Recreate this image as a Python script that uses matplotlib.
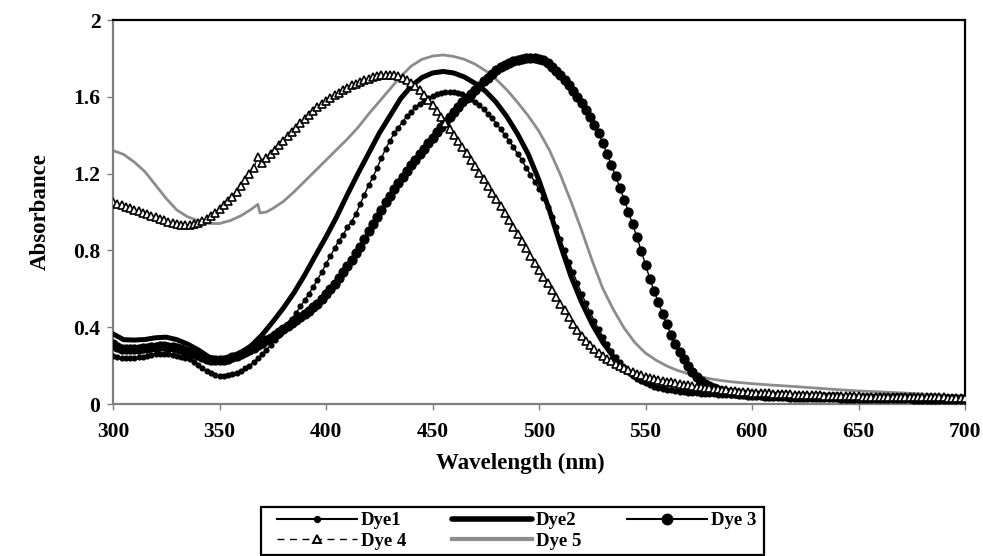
import numpy as np
import matplotlib
matplotlib.use("Agg")
import matplotlib.pyplot as plt
from matplotlib.lines import Line2D
from matplotlib.patches import Rectangle

plt.rcParams['font.family'] = ['Liberation Serif', 'DejaVu Serif']
plt.rcParams['font.weight'] = 'bold'

# ---------------- data ----------------
# 2-nm grid for the marker series (Dye1, Dye 3, Dye 4)
wl_2nm = np.arange(300, 701, 2)

dye1 = [
    0.250, 0.245, 0.240, 0.238, 0.238, 0.240, 0.243, 0.247, 0.252, 0.256,
    0.260, 0.262, 0.262, 0.260, 0.256, 0.250, 0.245, 0.240, 0.232, 0.220,
    0.205, 0.188, 0.172, 0.160, 0.152, 0.148, 0.147, 0.149, 0.155, 0.163,
    0.174, 0.186, 0.200, 0.218, 0.238, 0.260, 0.282, 0.306, 0.332, 0.358,
    0.386, 0.414, 0.444, 0.476, 0.508, 0.540, 0.575, 0.610, 0.648, 0.686,
    0.730, 0.770, 0.810, 0.850, 0.880, 0.920, 0.950, 0.990, 1.040, 1.090,
    1.140, 1.180, 1.230, 1.280, 1.330, 1.370, 1.410, 1.440, 1.470, 1.500,
    1.520, 1.545, 1.565, 1.580, 1.595, 1.605, 1.613, 1.620, 1.624, 1.626,
    1.624, 1.620, 1.613, 1.603, 1.590, 1.575, 1.555, 1.535, 1.510, 1.490,
    1.460, 1.430, 1.400, 1.370, 1.340, 1.300, 1.270, 1.230, 1.195, 1.155,
    1.120, 1.075, 1.028, 0.975, 0.920, 0.860, 0.800, 0.742, 0.685, 0.630,
    0.575, 0.525, 0.478, 0.432, 0.390, 0.350, 0.312, 0.278, 0.246, 0.217,
    0.192, 0.168, 0.148, 0.132, 0.119, 0.108, 0.099, 0.091, 0.085, 0.080,
    0.075, 0.071, 0.067, 0.064, 0.061, 0.059, 0.057, 0.055, 0.053, 0.052,
    0.051, 0.050, 0.049, 0.048, 0.047, 0.046, 0.046, 0.045, 0.045, 0.044,
    0.044, 0.043, 0.043, 0.042, 0.042, 0.041, 0.041, 0.040, 0.040, 0.040,
    0.039, 0.039, 0.038, 0.038, 0.038, 0.037, 0.037, 0.037, 0.036, 0.036,
    0.036, 0.035, 0.035, 0.035, 0.034, 0.034, 0.034, 0.034, 0.033, 0.033,
    0.033, 0.033, 0.032, 0.032, 0.032, 0.032, 0.031, 0.031, 0.031, 0.031,
    0.030, 0.030, 0.030, 0.030, 0.030, 0.029, 0.029, 0.029, 0.029, 0.029,
    0.028,
]

dye3 = [
    0.310, 0.296, 0.289, 0.286, 0.285, 0.286, 0.288, 0.291, 0.294, 0.297,
    0.299, 0.300, 0.300, 0.298, 0.295, 0.290, 0.285, 0.278, 0.270, 0.262,
    0.253, 0.244, 0.236, 0.231, 0.228, 0.228, 0.231, 0.236, 0.243, 0.251,
    0.260, 0.270, 0.282, 0.294, 0.306, 0.319, 0.332, 0.346, 0.360, 0.375,
    0.390, 0.405, 0.420, 0.436, 0.452, 0.469, 0.486, 0.504, 0.523, 0.546,
    0.575, 0.600, 0.627, 0.655, 0.685, 0.717, 0.750, 0.784, 0.820, 0.860,
    0.900, 0.937, 0.975, 1.012, 1.050, 1.085, 1.118, 1.150, 1.182, 1.213,
    1.243, 1.273, 1.302, 1.330, 1.358, 1.385, 1.415, 1.443, 1.470, 1.497,
    1.523, 1.548, 1.572, 1.595, 1.617, 1.638, 1.657, 1.680, 1.700, 1.720,
    1.738, 1.753, 1.766, 1.777, 1.786, 1.793, 1.798, 1.800, 1.801, 1.800,
    1.797, 1.790, 1.775, 1.755, 1.733, 1.713, 1.690, 1.662, 1.632, 1.600,
    1.566, 1.530, 1.495, 1.455, 1.410, 1.360, 1.300, 1.245, 1.185, 1.125,
    1.065, 1.000, 0.935, 0.868, 0.798, 0.725, 0.653, 0.590, 0.530, 0.470,
    0.415, 0.360, 0.310, 0.270, 0.232, 0.198, 0.168, 0.143, 0.122, 0.105,
    0.092, 0.082, 0.074, 0.068, 0.063, 0.059, 0.056, 0.053, 0.051, 0.049,
    0.047, 0.046, 0.045, 0.044, 0.043, 0.042, 0.041, 0.040, 0.040, 0.039,
    0.038, 0.038, 0.037, 0.037, 0.036, 0.036, 0.035, 0.035, 0.034, 0.034,
    0.034, 0.033, 0.033, 0.033, 0.032, 0.032, 0.032, 0.031, 0.031, 0.031,
    0.030, 0.030, 0.030, 0.030, 0.029, 0.029, 0.029, 0.029, 0.028, 0.028,
    0.028, 0.028, 0.028, 0.027, 0.027, 0.027, 0.027, 0.027, 0.026, 0.026,
    0.026,
]

dye4 = [
    1.050, 1.044, 1.036, 1.028, 1.020, 1.012, 1.004, 0.996, 0.988, 0.980,
    0.972, 0.964, 0.956, 0.948, 0.942, 0.937, 0.934, 0.933, 0.934, 0.938,
    0.944, 0.952, 0.964, 0.979, 0.997, 1.016, 1.036, 1.057, 1.080, 1.105,
    1.135, 1.168, 1.200, 1.230, 1.285, 1.255, 1.280, 1.302, 1.325, 1.348,
    1.372, 1.395, 1.418, 1.440, 1.462, 1.484, 1.505, 1.525, 1.545, 1.562,
    1.578, 1.594, 1.608, 1.622, 1.636, 1.648, 1.659, 1.669, 1.678, 1.686,
    1.694, 1.701, 1.707, 1.711, 1.714, 1.715, 1.713, 1.708, 1.700, 1.688,
    1.673, 1.655, 1.634, 1.610, 1.584, 1.556, 1.527, 1.497, 1.466, 1.434,
    1.402, 1.370, 1.338, 1.305, 1.272, 1.238, 1.204, 1.170, 1.136, 1.101,
    1.066, 1.030, 0.994, 0.958, 0.921, 0.884, 0.847, 0.810, 0.773, 0.736,
    0.700, 0.664, 0.628, 0.592, 0.556, 0.522, 0.488, 0.452, 0.418, 0.386,
    0.356, 0.330, 0.306, 0.285, 0.266, 0.250, 0.236, 0.222, 0.210, 0.198,
    0.188, 0.177, 0.167, 0.158, 0.150, 0.143, 0.137, 0.131, 0.126, 0.121,
    0.116, 0.112, 0.108, 0.104, 0.100, 0.097, 0.094, 0.091, 0.088, 0.085,
    0.082, 0.079, 0.076, 0.073, 0.071, 0.069, 0.067, 0.065, 0.063, 0.061,
    0.059, 0.058, 0.057, 0.056, 0.055, 0.054, 0.053, 0.052, 0.051, 0.050,
    0.049, 0.048, 0.047, 0.047, 0.046, 0.045, 0.045, 0.044, 0.043, 0.043,
    0.042, 0.042, 0.041, 0.041, 0.040, 0.040, 0.039, 0.039, 0.039, 0.038,
    0.038, 0.038, 0.037, 0.037, 0.037, 0.036, 0.036, 0.036, 0.035, 0.035,
    0.035, 0.035, 0.034, 0.034, 0.034, 0.034, 0.033, 0.033, 0.033, 0.033,
    0.032,
]

# plain-line series (no markers)
wl_dye2 = [300, 305, 310, 315, 320, 325, 330, 335, 340, 345, 350, 355, 360,
           365, 370, 375, 380, 385, 390, 395, 400, 405, 410, 415, 420, 425,
           430, 435, 440, 445, 450, 455, 460, 465, 470, 475, 480, 485, 490,
           495, 500, 505, 510, 515, 520, 525, 530, 535, 540, 545, 550, 555,
           560, 565, 570, 575, 580, 585, 590, 595, 600, 610, 620, 630, 640,
           650, 660, 670, 680, 690, 700]
dye2 = [0.365, 0.335, 0.333, 0.336, 0.345, 0.348, 0.335, 0.312, 0.282, 0.245,
        0.230, 0.240, 0.265, 0.305, 0.360, 0.428, 0.500, 0.580, 0.672, 0.772,
        0.870, 0.975, 1.090, 1.200, 1.305, 1.410, 1.500, 1.590, 1.655, 1.700,
        1.724, 1.732, 1.724, 1.703, 1.670, 1.628, 1.570, 1.495, 1.405, 1.300,
        1.165, 1.005, 0.830, 0.665, 0.530, 0.415, 0.320, 0.245, 0.185, 0.140,
        0.108, 0.088, 0.075, 0.066, 0.060, 0.056, 0.053, 0.050, 0.048, 0.046,
        0.045, 0.042, 0.040, 0.038, 0.036, 0.034, 0.033, 0.031, 0.030, 0.029,
        0.028]

wl_dye5 = [300, 305, 310, 315, 320, 325, 330, 335, 340, 345, 350, 355, 360,
           365, 368, 369, 372, 375, 380, 385, 390, 395, 400, 405, 410, 415,
           420, 425, 430, 435, 440, 445, 450, 455, 460, 465, 470, 475, 480,
           485, 490, 495, 500, 505, 510, 515, 520, 525, 530, 535, 540, 545,
           550, 555, 560, 565, 570, 575, 580, 585, 590, 595, 600, 610, 620,
           630, 640, 650, 660, 670, 680, 690, 700]
dye5 = [1.320, 1.300, 1.260, 1.210, 1.140, 1.070, 1.010, 0.975, 0.955, 0.940,
        0.940, 0.955, 0.980, 1.015, 1.040, 0.995, 1.000, 1.018, 1.055, 1.105,
        1.160, 1.215, 1.270, 1.325, 1.380, 1.440, 1.510, 1.575, 1.640, 1.705,
        1.760, 1.795, 1.812, 1.818, 1.810, 1.795, 1.770, 1.735, 1.690, 1.635,
        1.570, 1.500, 1.420, 1.320, 1.195, 1.055, 0.905, 0.745, 0.600, 0.490,
        0.395, 0.320, 0.265, 0.228, 0.198, 0.175, 0.158, 0.144, 0.132, 0.123,
        0.116, 0.111, 0.106, 0.098, 0.091, 0.083, 0.075, 0.068, 0.063, 0.058,
        0.052, 0.046, 0.040]

x_ticks = [300, 350, 400, 450, 500, 550, 600, 650, 700]
y_ticks = [0, 0.4, 0.8, 1.2, 1.6, 2.0]
y_ticklabels = ['0', '0.4', '0.8', '1.2', '1.6', '2']

# ---------------- figure ----------------
W, H = 983, 556
fig = plt.figure(figsize=(W / 100, H / 100), dpi=100)
ax = fig.add_axes([113 / W, 1 - 404 / H, (965 - 113) / W, (404 - 20) / H])

ax.plot(wl_dye5, dye5, color='#8c8c8c', lw=2.0, zorder=2, label='Dye 5')
ax.plot(wl_dye2, dye2, color='black', lw=3.6, zorder=3, label='Dye2')
ax.plot(wl_2nm, dye1, color='black', lw=1.0, marker='o', ms=3.4,
        mec='black', mfc='black', zorder=4, label='Dye1')
ax.plot(wl_2nm, dye3, color='black', lw=1.0, marker='o', ms=6.4,
        mec='black', mfc='black', zorder=5, label='Dye 3')
ax.plot(wl_2nm, dye4, color='black', lw=0.8, ls='--', marker='^', ms=6.0,
        mec='black', mfc='white', mew=1.2, zorder=6, label='Dye 4')

ax.set_xlim(300, 700)
ax.set_ylim(0, 2)
ax.set_xticks(x_ticks)
ax.set_yticks(y_ticks)
ax.set_yticklabels(y_ticklabels)

for s in ['top', 'right']:
    ax.spines[s].set_color('black')
    ax.spines[s].set_linewidth(1.6)
for s in ['left', 'bottom']:
    ax.spines[s].set_color('#7f7f7f')
    ax.spines[s].set_linewidth(1.6)

ax.tick_params(axis='both', direction='out', length=4, width=1.0,
               color='#7f7f7f', labelsize=15.5)
ax.tick_params(axis='x', pad=9)
ax.tick_params(axis='y', pad=5)
for lab in ax.get_xticklabels() + ax.get_yticklabels():
    lab.set_fontweight('bold')

ax.set_xlabel('Wavelength (nm)', fontsize=16.5, fontweight='bold')
ax.xaxis.label.set_va('center')
ax.xaxis.set_label_coords((520 - 113) / 852, (404 - 463) / 384)
ax.set_ylabel('Absorbance', fontsize=16.5, fontweight='bold')
ax.yaxis.label.set_va('center')
ax.yaxis.set_label_coords((40 - 113) / 852, 0.5)

# legend
h1 = Line2D([], [], color='black', lw=1.5, marker='o', ms=4.2)
h2 = Line2D([], [], color='black', lw=4.0, solid_capstyle='round')
h3 = Line2D([], [], color='black', lw=1.5, marker='o', ms=7.5)
h4 = Line2D([], [], color='black', lw=1.0, ls=(0, (5, 4)), marker='^', ms=6,
            mfc='white', mec='black', mew=1.4)
h5 = Line2D([], [], color='#8c8c8c', lw=3.0)
handles = [h1, h4, h2, h5, h3]
labels = ['Dye1', 'Dye 4', 'Dye2', 'Dye 5', 'Dye 3']
leg = fig.legend(handles, labels, ncol=3, loc='upper left',
                 bbox_to_anchor=(277 / W, 1 - 512 / H),
                 bbox_transform=fig.transFigure, borderaxespad=0,
                 frameon=False, handlelength=4.27, handletextpad=0.2,
                 columnspacing=2.45, labelspacing=0.2, borderpad=0.0,
                 numpoints=1, prop={'weight': 'bold', 'size': 13.5})
fig.patches.append(Rectangle((261 / W, 1 - 555 / H), (764 - 261) / W,
                             (555 - 507) / H, transform=fig.transFigure,
                             fill=False, edgecolor='black', lw=1.6))

fig.savefig('out.png', dpi=100)
